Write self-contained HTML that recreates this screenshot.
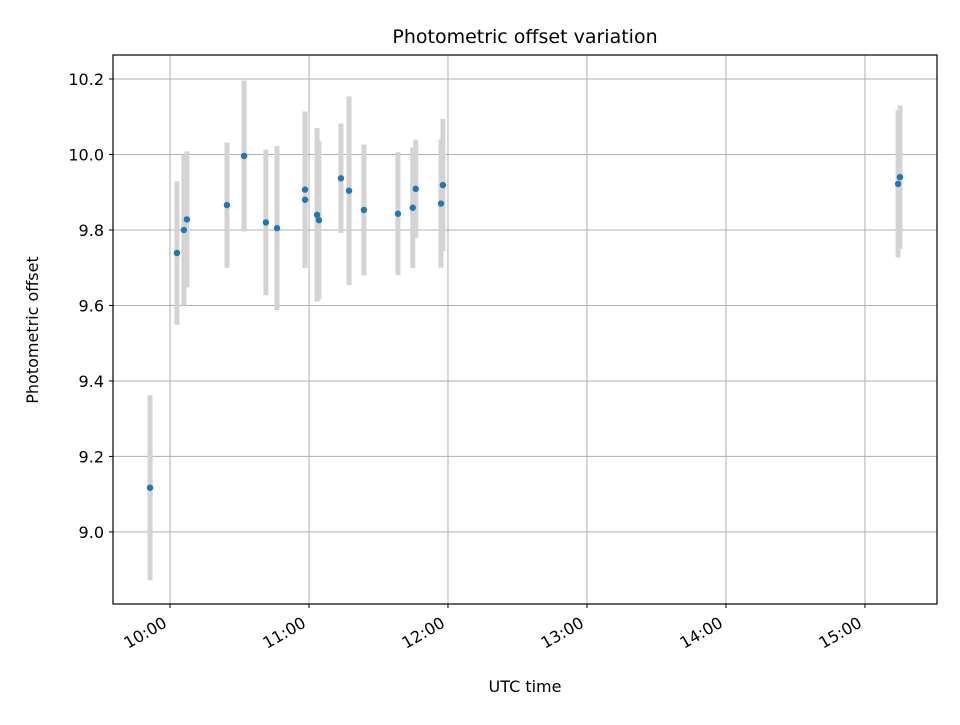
<!DOCTYPE html>
<html><head><meta charset="utf-8"><style>
body{margin:0;background:#fff;font-family:"Liberation Sans","DejaVu Sans",sans-serif;}
svg text{font-family:"DejaVu Sans","Liberation Sans",sans-serif;}
</style></head><body>
<svg id="chart" width="960" height="720">
<rect width="960" height="720" fill="#fff"/>
<g id="grid"></g>
<g id="errs"></g>
<g id="pts"></g>
<rect x="113" y="55" width="824" height="549" fill="none" stroke="#000" stroke-width="1.2"/>
<g id="ticks"></g>
<text x="525" y="43" font-size="19" text-anchor="middle">Photometric offset variation</text>
<text x="525" y="692" font-size="16" text-anchor="middle">UTC time</text>
<text transform="translate(38,330) rotate(-90)" font-size="16" text-anchor="middle">Photometric offset</text>
</svg>
<script>
// minutes after 10:00 UTC
const times=[-8.6,3.0,6.0,7.3,24.6,32.0,41.4,46.2,58.3,58.3,63.5,64.3,73.8,77.3,83.7,98.4,104.8,106.1,117.0,117.8,314.3,315.1];
const values=[9.117,9.739,9.80,9.828,9.866,9.996,9.82,9.805,9.907,9.88,9.84,9.826,9.937,9.904,9.853,9.843,9.859,9.909,9.87,9.919,9.922,9.94];
const errors=[0.245,0.19,0.2,0.18,0.166,0.2,0.193,0.217,0.207,0.18,0.23,0.21,0.145,0.25,0.173,0.163,0.16,0.13,0.17,0.175,0.195,0.19];
const yTicks=[9.0,9.2,9.4,9.6,9.8,10.0,10.2];
const xTicks=[0,60,120,180,240,300];
const xTickLabels=["10:00","11:00","12:00","13:00","14:00","15:00"];
const L=113,R=937,T=55,B=604,xMin=-24.6,xMax=331.1,yMin=8.809,yMax=10.2636;
const X=t=>L+(t-xMin)/(xMax-xMin)*(R-L);
const Y=v=>B-(v-yMin)/(yMax-yMin)*(B-T);
const NS="http://www.w3.org/2000/svg";
function mk(tag,attrs,parent){const e=document.createElementNS(NS,tag);for(const k in attrs)e.setAttribute(k,attrs[k]);parent.appendChild(e);return e;}
const grid=document.getElementById('grid'),ticks=document.getElementById('ticks');
yTicks.forEach(v=>{const y=Y(v);
 const g=mk('line',{x1:L,x2:R,y1:y,y2:y,stroke:'#b0b0b0','stroke-width':1},grid);
 
 
 const tk=mk('line',{x1:L-4,x2:L,y1:y,y2:y,stroke:'#000'},ticks);
 
 
 const t=mk('text',{x:L-9,y:y+6,'font-size':16,'text-anchor':'end'},ticks);t.textContent=v.toFixed(1);
 
 
});
xTicks.forEach((m,i)=>{const x=X(m);
 const g=mk('line',{x1:x,x2:x,y1:T,y2:B,stroke:'#b0b0b0','stroke-width':1},grid);
 
 
 const tk=mk('line',{x1:x,x2:x,y1:B,y2:B+4,stroke:'#000'},ticks);
 
 
 const t=mk('text',{'font-size':16,'text-anchor':'end',transform:`translate(${x-2},${B+22}) rotate(-30)`},ticks);t.textContent=xTickLabels[i];
 
 
});
const errs=document.getElementById('errs'),pts=document.getElementById('pts');
times.forEach((m,i)=>{const x=X(m);
 const e=mk('line',{x1:x,x2:x,y1:Y(values[i]+errors[i]),y2:Y(values[i]-errors[i]),stroke:'#d3d3d3','stroke-width':5},errs);
 
 
 const c=mk('circle',{cx:x,cy:Y(values[i]),r:3.2,fill:'#1f77b4'},pts);
 
 
});
</script>
</body></html>
